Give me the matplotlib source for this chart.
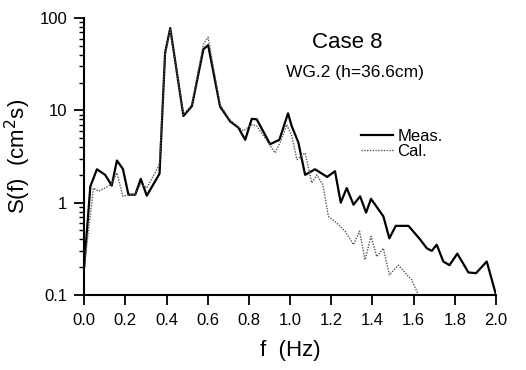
import matplotlib
matplotlib.use("Agg")
import matplotlib.pyplot as plt
from matplotlib.ticker import LogLocator, NullFormatter, FixedLocator

plt.rcParams['font.family'] = ['Liberation Sans', 'DejaVu Sans']

# measured spectrum (f in Hz, S in cm^2 s)
f_meas = [0.0, 0.03, 0.062, 0.102, 0.134, 0.159, 0.188, 0.215, 0.248, 0.275,
          0.304, 0.366, 0.393, 0.418, 0.482, 0.523, 0.579, 0.602, 0.66, 0.709,
          0.749, 0.782, 0.814, 0.838, 0.903, 0.948, 0.99, 1.008, 1.04, 1.073,
          1.121, 1.18, 1.218, 1.246, 1.275, 1.308, 1.34, 1.369, 1.393, 1.453,
          1.482, 1.513, 1.575, 1.631, 1.664, 1.688, 1.712, 1.744, 1.774, 1.812,
          1.866, 1.903, 1.955, 2.0]
s_meas = [0.2, 1.5, 2.3, 2.0, 1.53, 2.86, 2.32, 1.22, 1.22, 1.81,
          1.19, 2.06, 42, 78, 8.7, 11.1, 46, 51, 11, 7.6,
          6.5, 4.8, 8.1, 8.0, 4.3, 4.8, 9.3, 6.75, 4.5, 2.0,
          2.3, 1.9, 2.19, 1.0, 1.44, 0.95, 1.17, 0.78, 1.1, 0.71,
          0.41, 0.56, 0.56, 0.40, 0.32, 0.30, 0.35, 0.23, 0.21, 0.28,
          0.175, 0.172, 0.23, 0.1]

# calculated spectrum
f_cal = [0.0, 0.045, 0.07, 0.102, 0.134, 0.159, 0.188, 0.215, 0.248, 0.275,
         0.304, 0.366, 0.393, 0.418, 0.482, 0.523, 0.579, 0.602, 0.66, 0.709,
         0.749, 0.773, 0.814, 0.838, 0.927, 0.951, 0.984, 1.008, 1.033, 1.073,
         1.105, 1.13, 1.159, 1.186, 1.227, 1.267, 1.308, 1.337, 1.364, 1.393,
         1.421, 1.453, 1.482, 1.526, 1.591, 1.623]
s_cal = [0.2, 1.44, 1.33, 1.44, 1.6, 2.1, 1.17, 1.22, 1.22, 1.6,
         1.44, 2.6, 40, 75, 9.0, 11.5, 52, 62, 11.5, 7.8,
         6.6, 6.0, 7.0, 6.8, 3.46, 4.45, 7.0, 5.3, 2.93, 3.46,
         1.64, 2.0, 1.57, 0.71, 0.6, 0.49, 0.35, 0.49, 0.24, 0.43,
         0.26, 0.32, 0.165, 0.21, 0.145, 0.1]

xticks = [0.0, 0.2, 0.4, 0.6, 0.8, 1.0, 1.2, 1.4, 1.6, 1.8, 2.0]
yticks = [0.1, 1, 10, 100]
ytick_labels = ['0.1', '1', '10', '100']

fig = plt.figure(figsize=(5.26, 3.70), dpi=100)
ax = fig.add_axes([0.160, 0.203, 0.783, 0.748])

ax.plot(f_meas, s_meas, color='black', lw=1.6, label='Meas.')
ax.plot(f_cal, s_cal, color='#555555', lw=1.0, linestyle=(0, (1, 1)), label='Cal.')

ax.set_yscale('log')
ax.set_xlim(0, 2.0)
ax.set_ylim(0.1, 100)

ax.spines['top'].set_visible(False)
ax.spines['right'].set_visible(False)
ax.spines['left'].set_linewidth(1.5)
ax.spines['bottom'].set_linewidth(1.5)

ax.xaxis.set_major_locator(FixedLocator(xticks))
ax.set_xticklabels([f'{t:.1f}' for t in xticks])
ax.yaxis.set_major_locator(FixedLocator(yticks))
ax.set_yticklabels(ytick_labels)
ax.yaxis.set_minor_locator(LogLocator(base=10, subs=range(2, 10)))
ax.yaxis.set_minor_formatter(NullFormatter())
ax.tick_params(axis='both', which='major', direction='out', length=7, width=1.3,
               labelsize=12)
ax.tick_params(axis='x', which='major', pad=6)
ax.tick_params(axis='y', which='major', pad=5)
ax.tick_params(axis='y', which='minor', direction='out', length=3.5, width=1.0)

ax.set_xlabel('f  (Hz)', fontsize=16, labelpad=9)
ax.set_ylabel('S(f)  (cm$^2$s)', fontsize=16, labelpad=5)

ax.text(0.638, 0.913, 'Case 8', transform=ax.transAxes, fontsize=16,
        ha='center', va='center')
ax.text(0.658, 0.805, 'WG.2 (h=36.6cm)', transform=ax.transAxes, fontsize=12.5,
        ha='center', va='center')

ax.legend(loc='upper left', bbox_to_anchor=(0.672, 0.60), frameon=False,
          fontsize=12, handlelength=1.9, handletextpad=0.3, labelspacing=0.0,
          borderpad=0, borderaxespad=0)

fig.savefig('out.png', dpi=100)
